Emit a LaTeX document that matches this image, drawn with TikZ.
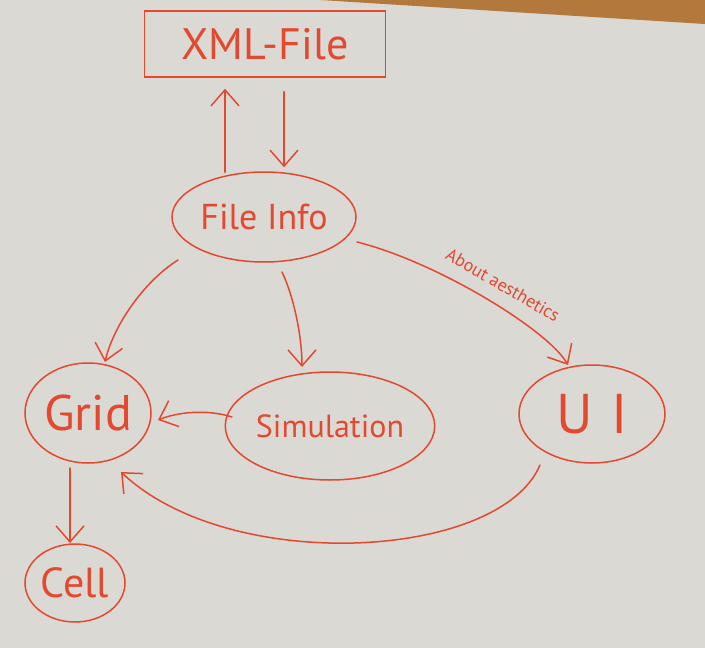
\documentclass[tikz,border=0pt]{standalone}
\usepackage{fontspec}
\setmainfont{PT Sans}
\usetikzlibrary{shapes.geometric,arrows.meta}
\definecolor{ink}{HTML}{E4482F}
\definecolor{paper}{HTML}{DAD9D4}
\definecolor{wood}{HTML}{B3793C}
\tikzset{
  bubble/.style={draw=ink, line width=1.5pt, ellipse, inner sep=0pt, text=ink},
  filebox/.style={draw=ink, line width=1.5pt, rectangle, inner sep=0pt, text=ink},
  arr/.style={draw=ink, line width=1.5pt, line cap=round, -{Straight Barb[length=16pt,width=28pt,line width=1.5pt]}},
  lbl/.style={text=ink, inner sep=0pt}
}
\newcommand{\fsz}[1]{\fontsize{#1}{#1}\selectfont}
\begin{document}
\begin{tikzpicture}[x=1pt,y=1pt]
\useasboundingbox (0,0) rectangle (705,-648);
\fill[paper] (0,0) rectangle (705,-648);
\fill[wood] (320,0) -- (705,0) -- (705,-24) -- cycle;

\node[filebox, minimum width=241pt, minimum height=66pt, font=\fsz{44}] (xml) at (265,-44) {XML-File};
\node[bubble, minimum width=184pt, minimum height=90pt, font=\fsz{36}] (fi) at (264,-217) {File Info};
\node[bubble, minimum width=126pt, minimum height=100pt, font=\fsz{50}] (grid) at (88,-413) {Grid};
\node[bubble, minimum width=174pt, minimum height=108pt, font=\fsz{32}] (sim) at (330,-426) {Simulation};
\node[bubble, minimum width=146pt, minimum height=98pt, font=\fsz{56}] (ui) at (592,-414) {U\,\,I};
\node[bubble, minimum width=100pt, minimum height=78pt, font=\fsz{42}] (cell) at (75,-583) {Cell};

% XML <-> File Info
\draw[arr] ([shift={(-39,-1)}]fi.north) -- ([shift={(-40,-11)}]xml.south);
\draw[arr] ([shift={(19,-14)}]xml.south) -- ([shift={(20,4)}]fi.north);

% File Info -> Grid
\draw[arr] ([shift={(-86,-43)}]fi.center) .. controls +(-35,-22) and +(8,35) .. ([shift={(17,51)}]grid.center);
% File Info -> Simulation
\draw[arr] ([shift={(18,-55)}]fi.center) .. controls +(12,-25) and +(0,30) .. ([shift={(-28,59)}]sim.center);
% File Info -> UI
\draw[arr] ([shift={(93,-25)}]fi.center) .. controls +(80,-20) and +(-20,35) .. ([shift={(-24,49)}]ui.center);
\node[lbl, rotate=-30, font=\fsz{18}] (about) at (503,-285) {About aesthetics};

% Simulation -> Grid
\draw[arr] ([shift={(-98,9)}]sim.center) .. controls +(-25,8) and +(20,8) .. ([shift={(70,-7)}]grid.center);
% UI -> Grid
\draw[arr] ([shift={(-52,-51)}]ui.center) .. controls +(-40,-95) and +(109,-103) .. ([shift={(33,-59)}]grid.center);
% Grid -> Cell
\draw[arr] ([shift={(-18,-55)}]grid.center) -- ([shift={(-5,40)}]cell.center);
\end{tikzpicture}
\end{document}
